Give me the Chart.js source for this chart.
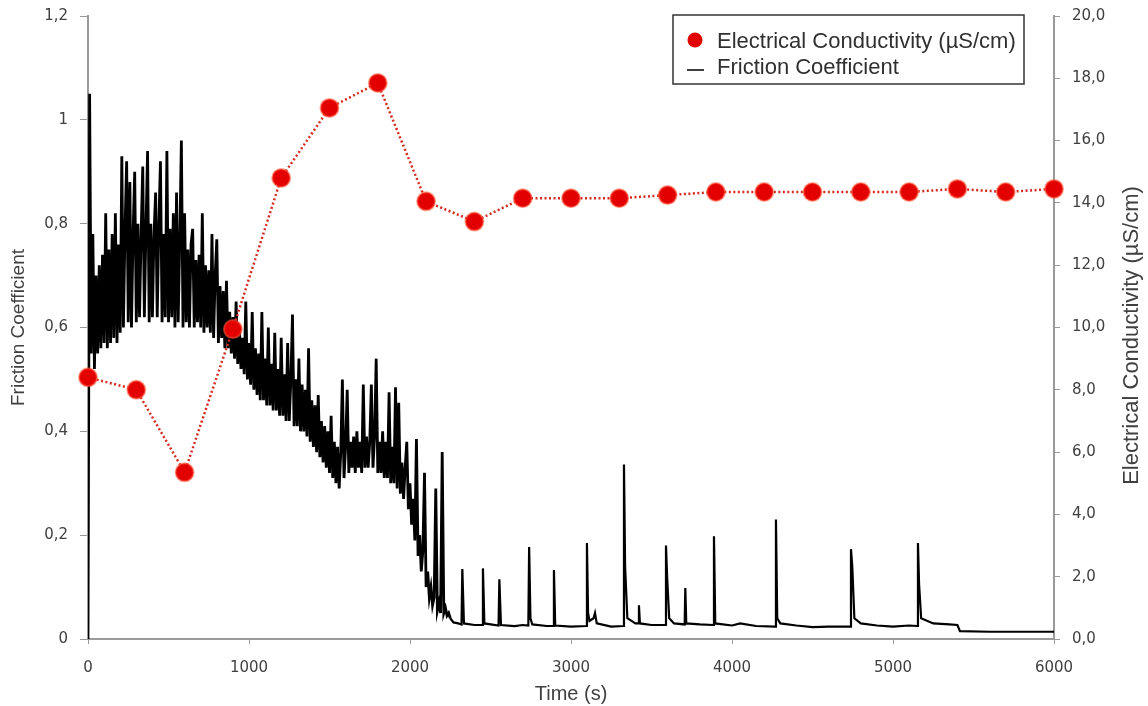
<!DOCTYPE html>
<html>
<head>
<meta charset="utf-8">
<script src="https://cdn.jsdelivr.net/npm/chart.js@4.4.1/dist/chart.umd.min.js"></script>
<style>
  html, body { margin: 0; padding: 0; background: #fff; }
  #wrap { width: 1148px; height: 706px; position: relative; }
</style>
</head>
<body>
<div id="wrap"><canvas id="chart"></canvas></div>
<script>
// Electrical conductivity, sampled every 300 s (µS/cm)
const conductivityTime = [0, 300, 600, 900, 1200, 1500, 1800, 2100, 2400, 2700, 3000,
    3300, 3600, 3900, 4200, 4500, 4800, 5100, 5400, 5700, 6000];
const conductivityValue = [8.4, 8.0, 5.35, 9.95, 14.8, 17.05, 17.85, 14.05, 13.4, 14.15, 14.15,
    14.15, 14.25, 14.35, 14.35, 14.35, 14.35, 14.35, 14.45, 14.35, 14.45];

// Friction coefficient, running-in part, one reading every 10 s from t = 0
const frictionStep = 10;
const frictionRunIn = [
    0.00, 1.05, 0.55, 0.78, 0.52, 0.70, 0.55, 0.72, 0.56, 0.74,
    0.57, 0.82, 0.56, 0.75, 0.57, 0.78, 0.58, 0.82, 0.57, 0.76,
    0.59, 0.93, 0.60, 0.79, 0.92, 0.61, 0.88, 0.60, 0.78, 0.90,
    0.61, 0.80, 0.62, 0.78, 0.91, 0.62, 0.79, 0.94, 0.61, 0.80,
    0.62, 0.78, 0.86, 0.62, 0.80, 0.92, 0.61, 0.78, 0.62, 0.94,
    0.61, 0.79, 0.62, 0.82, 0.60, 0.86, 0.61, 0.77, 0.96, 0.60,
    0.82, 0.61, 0.75, 0.60, 0.76, 0.79, 0.60, 0.73, 0.61, 0.74,
    0.60, 0.82, 0.59, 0.72, 0.60, 0.71, 0.59, 0.78, 0.58, 0.70,
    0.77, 0.57, 0.68, 0.58, 0.67, 0.56, 0.69, 0.56, 0.63, 0.55,
    0.62, 0.54, 0.65, 0.53, 0.60, 0.52, 0.58, 0.51, 0.65, 0.50,
    0.57, 0.49, 0.63, 0.48, 0.56, 0.47, 0.55, 0.46, 0.63, 0.46,
    0.54, 0.45, 0.60, 0.45, 0.53, 0.44, 0.59, 0.44, 0.52, 0.43,
    0.58, 0.43, 0.51, 0.42, 0.57, 0.42, 0.50, 0.625, 0.41, 0.50,
    0.41, 0.54, 0.40, 0.49, 0.40, 0.48, 0.39, 0.56, 0.38, 0.46,
    0.37, 0.45, 0.36, 0.47, 0.35, 0.42, 0.34, 0.41, 0.33, 0.40,
    0.32, 0.43, 0.31, 0.38, 0.30, 0.37, 0.29, 0.36, 0.50, 0.31,
    0.37, 0.48, 0.32, 0.38, 0.33, 0.39, 0.32, 0.40, 0.33, 0.38,
    0.32, 0.49, 0.33, 0.39, 0.33, 0.38, 0.49, 0.33, 0.39, 0.54,
    0.32, 0.38, 0.32, 0.40, 0.31, 0.38, 0.31, 0.475, 0.30, 0.37,
    0.30, 0.485, 0.29, 0.455, 0.28, 0.34, 0.27, 0.33, 0.38, 0.25,
    0.30, 0.22, 0.27, 0.19, 0.385, 0.16, 0.20, 0.13, 0.17, 0.32,
    0.10, 0.13, 0.08, 0.10, 0.065, 0.08, 0.29, 0.055, 0.07, 0.05,
    0.36, 0.05, 0.06, 0.045, 0.05, 0.04
];

// Friction coefficient after running-in (irregular readings around the spikes)
const frictionTailTime = [
    2270, 2300, 2320, 2325, 2335, 2400, 2448, 2453, 2462, 2550, 2555, 2565,
    2650, 2700, 2735, 2740, 2748, 2760, 2850, 2890, 2894, 2902, 3000, 3095,
    3099, 3106, 3115, 3140, 3149, 3160, 3250, 3325, 3329, 3336, 3350, 3400,
    3418, 3422, 3428, 3500, 3585, 3590, 3597, 3610, 3640, 3706, 3710, 3716,
    3800, 3884, 3888, 3896, 4000, 4050, 4150, 4269, 4273, 4281, 4300, 4400,
    4500, 4600, 4735, 4739, 4747, 4760, 4800, 4900, 5000, 5100, 5150, 5155,
    5162, 5175, 5250, 5350, 5400, 5416, 5600, 6000
];
const frictionTailValue = [
    0.032, 0.030, 0.028, 0.135, 0.030, 0.027, 0.027, 0.136, 0.030, 0.026, 0.115, 0.027,
    0.025, 0.027, 0.026, 0.177, 0.040, 0.028, 0.025, 0.025, 0.133, 0.026, 0.024, 0.025,
    0.185, 0.050, 0.035, 0.040, 0.050, 0.030, 0.024, 0.025, 0.336, 0.140, 0.040, 0.030,
    0.030, 0.065, 0.030, 0.027, 0.027, 0.180, 0.120, 0.040, 0.030, 0.028, 0.098, 0.030,
    0.028, 0.027, 0.198, 0.030, 0.026, 0.030, 0.025, 0.024, 0.230, 0.040, 0.030, 0.026,
    0.023, 0.024, 0.024, 0.173, 0.140, 0.040, 0.030, 0.026, 0.024, 0.026, 0.025, 0.185,
    0.105, 0.040, 0.030, 0.028, 0.027, 0.015, 0.014, 0.014
];

const textColor = '#404040';
const axisColor = '#9a9a9a';
const fontFamily = "'Liberation Sans', Arial, sans-serif";
const tickFamily = "'DejaVu Sans', Verdana, sans-serif";
const rightTitle = 'Electrical Conductivity (µS/cm)';
const runInEnd = frictionRunIn.length * frictionStep;

const frictionPoints = frictionRunIn.map((v, i) => ({ x: i * frictionStep, y: v }))
    .concat(frictionTailTime.map((t, i) => ({ x: t, y: frictionTailValue[i] })));
const conductivityPoints = conductivityTime.map((t, i) => ({ x: t, y: conductivityValue[i] }));

function commaNumber(v, digits) {
    return Number(v.toFixed(digits)).toString().replace('.', ',');
}

// keep the plot top fixed, tick labels may overflow into the padding
function fixVertical(width) {
    return scale => {
        scale.width = width;
        scale.paddingTop = 0;
        scale.paddingBottom = 0;
    };
}

// framed legend inside the plot + right axis title reading bottom-to-top
const extras = {
    id: 'extras',
    afterDraw(chart) {
        const ctx = chart.ctx;
        const area = chart.chartArea;
        const left = area.right - 381, top = area.top - 1, w = 351, h = 69;
        ctx.save();
        ctx.fillStyle = '#fff';
        ctx.fillRect(left, top, w, h);
        ctx.strokeStyle = '#333';
        ctx.lineWidth = 1.5;
        ctx.strokeRect(left, top, w, h);
        ctx.font = '22px ' + fontFamily;
        ctx.textBaseline = 'middle';
        const cond = chart.data.datasets[0];
        const fric = chart.data.datasets[1];
        ctx.beginPath();
        ctx.arc(left + 22, top + 25, 7.5, 0, Math.PI * 2);
        ctx.fillStyle = cond.pointBackgroundColor;
        ctx.fill();
        ctx.fillStyle = '#303030';
        ctx.fillText(cond.label, left + 44, top + 27);
        ctx.beginPath();
        ctx.moveTo(left + 14, top + 55);
        ctx.lineTo(left + 31, top + 55);
        ctx.strokeStyle = fric.borderColor;
        ctx.lineWidth = 1.5;
        ctx.stroke();
        ctx.fillText(fric.label, left + 44, top + 53);

        ctx.translate(1132, (area.top + area.bottom) / 2 + 8);
        ctx.rotate(-Math.PI / 2);
        ctx.textAlign = 'center';
        ctx.fillStyle = textColor;
        ctx.font = '22px ' + fontFamily;
        ctx.fillText(rightTitle, 0, 0);
        ctx.restore();
    }
};

new Chart(document.getElementById('chart'), {
    type: 'line',
    data: {
        datasets: [{
            label: 'Electrical Conductivity (µS/cm)',
            data: conductivityPoints,
            yAxisID: 'y2',
            order: 1,
            clip: false,
            borderColor: '#d42a20',
            borderWidth: 2.5,
            borderDash: [2, 2.5],
            pointRadius: 9,
            pointBackgroundColor: '#e30000',
            pointBorderColor: 'rgba(255,90,60,0.55)',
            pointBorderWidth: 2,
            tension: 0
        }, {
            label: 'Friction Coefficient',
            data: frictionPoints,
            yAxisID: 'y',
            order: 2,
            borderColor: '#000',
            borderWidth: 2.2,
            segment: {
                borderWidth: ctx => (ctx.p1.parsed.x < runInEnd ? 2.8 : 2.2)
            },
            pointRadius: 0,
            tension: 0
        }]
    },
    options: {
        responsive: true,
        maintainAspectRatio: false,
        animation: false,
        layout: { padding: { top: 16, left: 0, right: 0, bottom: 0 } },
        plugins: {
            legend: { display: false },
            tooltip: { enabled: false }
        },
        scales: {
            x: {
                type: 'linear',
                min: 0,
                max: 6000,
                ticks: { stepSize: 1000, color: textColor, padding: 15, font: { size: 15, family: tickFamily },
                    callback: v => String(v) },
                grid: { drawOnChartArea: false, tickLength: 5, color: axisColor },
                border: { color: axisColor, width: 2 },
                title: { display: true, text: 'Time (s)', color: textColor, padding: { top: 6, bottom: 0 }, font: { size: 20, family: fontFamily } },
                afterFit(scale) { scale.height = 67; }
            },
            y: {
                position: 'left',
                min: 0,
                max: 1.2,
                ticks: {
                    stepSize: 0.2, color: textColor, padding: 12, font: { size: 15, family: tickFamily },
                    callback: v => commaNumber(v, 1)
                },
                grid: { drawOnChartArea: false, tickLength: 8, color: axisColor },
                border: { color: axisColor, width: 2 },
                title: { display: true, text: 'Friction Coefficient', color: textColor, padding: { top: 7, bottom: 0 }, font: { size: 19, family: fontFamily } },
                afterFit: fixVertical(88)
            },
            y2: {
                position: 'right',
                min: 0,
                max: 20,
                ticks: {
                    stepSize: 2, color: textColor, padding: 12, font: { size: 15, family: tickFamily },
                    callback: v => v.toFixed(1).replace('.', ',')
                },
                grid: { drawOnChartArea: false, tickLength: 6, color: axisColor },
                border: { color: axisColor, width: 2 },
                afterFit: fixVertical(94)
            }
        }
    },
    plugins: [extras]
});
</script>
</body>
</html>
